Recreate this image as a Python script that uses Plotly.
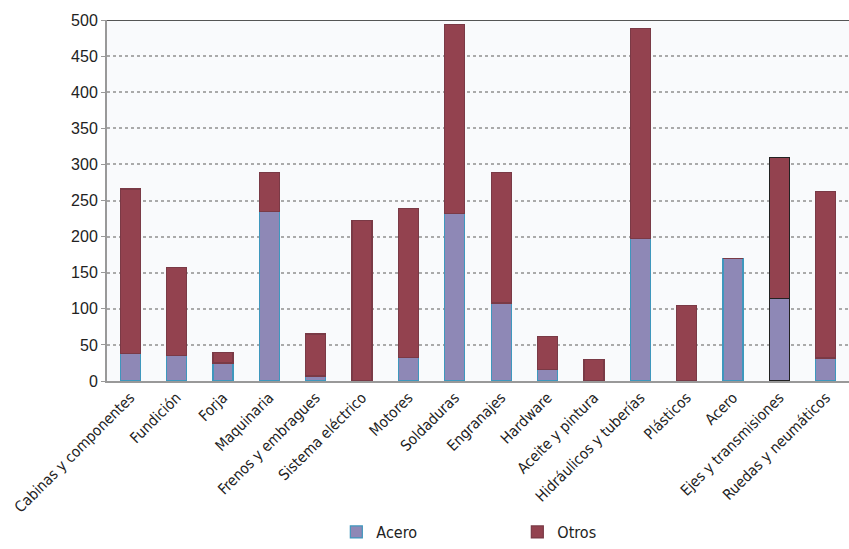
import plotly.graph_objects as go

categories = ["Cabinas y componentes", "Fundición", "Forja", "Maquinaria", "Frenos y embragues",
              "Sistema eléctrico", "Motores", "Soldaduras", "Engranajes", "Hardware",
              "Aceite y pintura", "Hidráulicos y tuberías", "Plásticos", "Acero",
              "Ejes y transmisiones", "Ruedas y neumáticos"]
totals = [266, 157, 39, 289, 65, 222, 239, 494, 289, 62, 30, 488, 105, 170, 310, 262]
acero = [38, 35, 25, 235, 7, 0, 33, 232, 108, 16, 0, 197, 0, 170, 114, 32]
otros = [t - a for t, a in zip(totals, acero)]
y_ticks = [0, 50, 100, 150, 200, 250, 300, 350, 400, 450, 500]

acero_line = ["#3f97bd"] * len(categories)
otros_line = ["#7a3a46"] * len(categories)
acero_line[14] = "#222222"
otros_line[14] = "#222222"

cond = "DejaVu Sans Condensed, Liberation Sans Narrow, Liberation Sans"

fig = go.Figure()
fig.add_trace(go.Bar(x=categories, y=acero, name="Acero",
                     marker=dict(color="#8e88b6", line=dict(color=acero_line, width=1.2))))
fig.add_trace(go.Bar(x=categories, y=otros, name="Otros",
                     marker=dict(color="#93424f", line=dict(color=otros_line, width=1.2))))

fig.update_layout(
    barmode="stack",
    bargap=0.57,
    width=849, height=549,
    margin=dict(l=107, r=0, t=20, b=166),
    paper_bgcolor="white",
    plot_bgcolor="#f9fafc",
    font=dict(family=cond, color="#222"),
    showlegend=True,
    legend=dict(orientation="h", x=0.553, xanchor="center", y=-0.42, yanchor="middle",
                font=dict(size=16, family=cond),
                entrywidth=136, entrywidthmode="pixels", traceorder="normal"),
    xaxis=dict(tickangle=-45, tickfont=dict(size=15, family=cond),
               showline=True, linecolor="#999", linewidth=2, ticks="", range=[-0.5, 15.5]),
    yaxis=dict(range=[0, 500], tickvals=y_ticks, tickfont=dict(size=16, family="Liberation Sans, Arial"),
               showgrid=True, gridcolor="#aaaaaa", griddash="dot", gridwidth=1.5,
               showline=True, linecolor="#999", linewidth=2, ticks="outside", ticklen=4,
               tickcolor="#999", zeroline=False),
)
fig.add_shape(type="line", xref="paper", yref="y", x0=0, x1=1, y0=500, y1=500,
              line=dict(color="#555", width=2))

fig.write_html("out.html")
